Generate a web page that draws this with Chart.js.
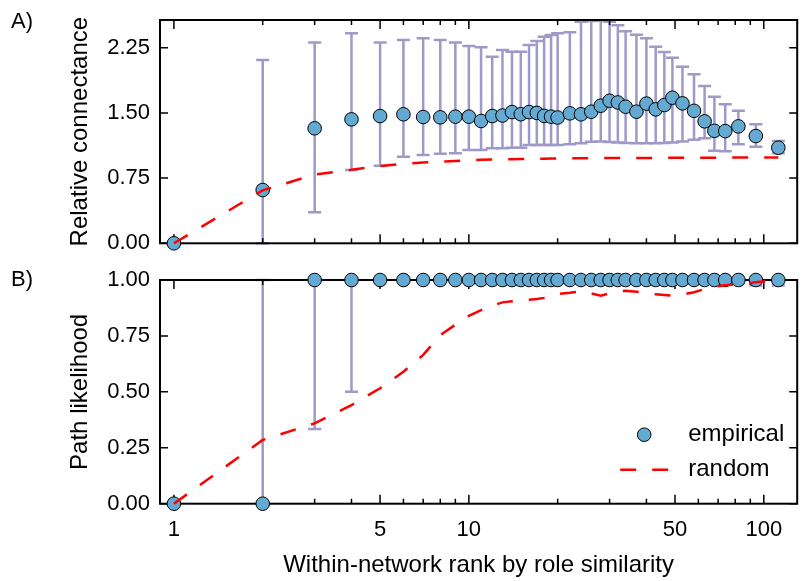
<!DOCTYPE html>
<html>
<head>
<meta charset="utf-8">
<script src="https://cdn.jsdelivr.net/npm/chart.js@4.4.1/dist/chart.umd.min.js"></script>
<style>
	body { margin: 0; background: #fff; }
	#wrap { position: relative; width: 805px; height: 581px; }
	canvas { position: absolute; left: 0; }
</style>
</head>
<body>
<div id="wrap">
	<canvas id="panelA" width="805" height="262" style="top:0"></canvas>
	<canvas id="panelB" width="805" height="319" style="top:262px"></canvas>
</div>
<script>
// Within-network rank (x positions shared by both panels)
const rank = [1, 2, 3, 4, 5, 6, 7, 8, 9, 10, 11, 12, 13, 14, 15, 16, 17, 18, 19, 20,
	22, 24, 26, 28, 30, 32, 34, 37, 40, 43, 46, 49, 53, 58, 63, 68, 74, 82, 94, 112];

// A) relative connectance
const connEmp = [0, 0.613, 1.323, 1.426, 1.464, 1.484, 1.453, 1.449, 1.457, 1.457,
	1.407, 1.464, 1.470, 1.510, 1.485, 1.510, 1.500, 1.466, 1.457, 1.447,
	1.495, 1.484, 1.514, 1.583, 1.640, 1.620, 1.571, 1.514, 1.607, 1.541,
	1.591, 1.675, 1.610, 1.524, 1.403, 1.294, 1.291, 1.345, 1.234, 1.100];
const connHigh = [0, 2.11, 2.31, 2.416, 2.31, 2.339, 2.36, 2.339, 2.31, 2.27,
	2.255, 2.147, 2.224, 2.205, 2.205, 2.28, 2.327, 2.377, 2.396, 2.416,
	2.427, 2.55, 2.557, 2.56, 2.55, 2.51, 2.44, 2.40, 2.36, 2.26,
	2.20, 2.135, 2.03, 1.944, 1.81, 1.687, 1.60, 1.526, 1.369, 1.177];
const connLow = [0, 0, 0.357, 0.843, 0.893, 0.997, 1.016, 1.03, 1.035, 1.073,
	1.073, 1.093, 1.093, 1.10, 1.10, 1.13, 1.13, 1.13, 1.13, 1.13,
	1.139, 1.15, 1.169, 1.17, 1.165, 1.16, 1.155, 1.15, 1.15, 1.15,
	1.155, 1.16, 1.17, 1.19, 1.21, 1.065, 1.06, 1.14, 1.11, 1.035];
const connRandom = [0, 0.61, 0.79, 0.845, 0.89, 0.915, 0.93, 0.94, 0.948, 0.955,
	0.96, 0.963, 0.966, 0.968, 0.97, 0.972, 0.973, 0.974, 0.975, 0.976,
	0.977, 0.978, 0.979, 0.98, 0.98, 0.981, 0.981, 0.982, 0.982, 0.983,
	0.983, 0.984, 0.984, 0.985, 0.985, 0.985, 0.986, 0.986, 0.986, 0.986];

// B) path likelihood
const pathEmp = [0, 0, 1, 1, 1, 1, 1, 1, 1, 1, 1, 1, 1, 1, 1, 1, 1, 1, 1, 1,
	1, 1, 1, 1, 1, 1, 1, 1, 1, 1, 1, 1, 1, 1, 1, 1, 1, 1, 1, 1];
const pathHigh = [0, 1, 1, 1, 1, 1, 1, 1, 1, 1, 1, 1, 1, 1, 1, 1, 1, 1, 1, 1,
	1, 1, 1, 1, 1, 1, 1, 1, 1, 1, 1, 1, 1, 1, 1, 1, 1, 1, 1, 1];
const pathLow = [0, 0, 0.334, 0.5, 1, 1, 1, 1, 1, 1, 1, 1, 1, 1, 1, 1, 1, 1, 1, 1,
	0.985, 0.985, 0.985, 0.985, 0.985, 0.985, 0.985, 0.985, 0.985, 0.985,
	0.985, 0.985, 0.985, 0.985, 0.985, 0.985, 0.985, 0.985, 0.975, 0.975];
const pathRandom = [0, 0.285, 0.359, 0.441, 0.516, 0.59, 0.665, 0.754, 0.80, 0.84,
	0.865, 0.885, 0.90, 0.905, 0.91, 0.912, 0.915, 0.92, 0.93, 0.937,
	0.943, 0.95, 0.94, 0.93, 0.94, 0.95, 0.952, 0.948, 0.94, 0.936,
	0.933, 0.93, 0.935, 0.945, 0.96, 0.97, 0.977, 0.982, 0.99, 1.0];

// tick labels / tick marks
const xLabelTicks = [1, 5, 10, 50, 100];
const xMinorTicks = [2, 3, 4, 6, 7, 8, 9, 20, 30, 40, 60, 70, 80, 90];
const yTicksA = [0, 0.75, 1.5, 2.25];
const yTicksB = [0, 0.25, 0.5, 0.75, 1];

const FONT = "'Liberation Sans', Arial, Helvetica, sans-serif";
const DOT = '#63a9d1', ERR = '#9e9ac8', RED = '#ff0000';

Chart.defaults.font.family = FONT;
Chart.defaults.color = '#000';

const pts = (ys) => rank.map((r, i) => ({x: r, y: ys[i]}));

// frame with inward ticks, error bars, panel letter, legend
const decor = {
	id: 'decor',
	beforeDatasetsDraw(chart, args, opts) {
		const {ctx, chartArea: a, scales: {x, y}} = chart;
		ctx.save();
		// error bars
		ctx.strokeStyle = ERR;
		ctx.lineWidth = 2.5;
		rank.forEach((r, i) => {
			if (opts.hi[i] === opts.lo[i]) return;
			const px = x.getPixelForValue(r),
				top = y.getPixelForValue(opts.hi[i]),
				bot = y.getPixelForValue(opts.lo[i]);
			ctx.beginPath();
			ctx.moveTo(px, top); ctx.lineTo(px, bot);
			ctx.moveTo(px - 6.5, top); ctx.lineTo(px + 6.5, top);
			ctx.moveTo(px - 6.5, bot); ctx.lineTo(px + 6.5, bot);
			ctx.stroke();
		});
		// frame
		ctx.strokeStyle = '#000';
		ctx.lineWidth = 2;
		ctx.strokeRect(a.left, a.top, a.width, a.height);
		ctx.lineWidth = 1.5;
		ctx.beginPath();
		const xt = (v, len) => {
			const px = x.getPixelForValue(v);
			ctx.moveTo(px, a.top); ctx.lineTo(px, a.top + len);
			ctx.moveTo(px, a.bottom); ctx.lineTo(px, a.bottom - len);
		};
		xLabelTicks.forEach((v) => xt(v, 9));
		xMinorTicks.forEach((v) => xt(v, 5));
		opts.yticks.forEach((v) => {
			const py = y.getPixelForValue(v);
			ctx.moveTo(a.left, py); ctx.lineTo(a.left + 8, py);
			ctx.moveTo(a.right, py); ctx.lineTo(a.right - 8, py);
		});
		ctx.stroke();
		ctx.restore();
	},
	afterDraw(chart, args, opts) {
		const {ctx, chartArea: a} = chart;
		ctx.save();
		ctx.fillStyle = '#000';
		ctx.font = '22px ' + FONT;
		ctx.textBaseline = 'middle';
		ctx.textAlign = 'left';
		ctx.fillText(opts.letter, 11, a.top + opts.letterDy);
		if (opts.legend) {
			const y1 = a.bottom - 69, y2 = a.bottom - 34;
			ctx.beginPath();
			ctx.arc(a.right - 153, y1, 6.8, 0, 2 * Math.PI);
			ctx.fillStyle = DOT;
			ctx.fill();
			ctx.lineWidth = 1;
			ctx.strokeStyle = '#000';
			ctx.stroke();
			ctx.beginPath();
			ctx.strokeStyle = RED;
			ctx.lineWidth = 2.5;
			ctx.moveTo(a.right - 177, y2); ctx.lineTo(a.right - 161, y2);
			ctx.moveTo(a.right - 145, y2); ctx.lineTo(a.right - 129, y2);
			ctx.stroke();
			ctx.fillStyle = '#000';
			ctx.font = '24px ' + FONT;
			ctx.fillText('empirical', a.right - 109, y1);
			ctx.fillText('random', a.right - 109, y2);
		}
		ctx.restore();
	}
};

function datasets(emp, rnd) {
	return [{
		label: 'random',
		data: pts(rnd),
		borderColor: RED,
		borderWidth: 2.5,
		borderDash: [16, 16],
		borderCapStyle: 'butt',
		pointRadius: 0,
		tension: 0,
		clip: false
	}, {
		label: 'empirical',
		data: pts(emp),
		showLine: false,
		pointRadius: 6.8,
		pointBackgroundColor: DOT,
		pointBorderColor: '#000',
		pointBorderWidth: 1,
		clip: false
	}];
}

function yAxis(min, max, ticks, title) {
	return {
		type: 'linear',
		min: min,
		max: max,
		afterBuildTicks: (s) => { s.ticks = ticks.map((v) => ({value: v})); },
		afterFit: (s) => {
			s.width = 160;
			s.paddingTop = 0;
			s.paddingBottom = 0;
		},
		grid: {display: false, drawTicks: false},
		border: {display: false},
		ticks: {
			font: {size: 22},
			padding: 10,
			callback: (v) => Number(v).toFixed(2)
		},
		title: {
			display: true,
			text: title,
			font: {size: 24},
			padding: {top: 66, bottom: 0}
		}
	};
}

const xMin = 0.897, xMax = 129.8;

new Chart(document.getElementById('panelA'), {
	type: 'line',
	data: {datasets: datasets(connEmp, connRandom)},
	options: {
		responsive: false,
		animation: false,
		devicePixelRatio: 1,
		layout: {padding: {top: 20, right: 3, bottom: 18.7, left: 0}},
		scales: {
			x: {type: 'logarithmic', min: xMin, max: xMax, display: false},
			y: yAxis(0, 2.569, yTicksA, 'Relative connectance')
		},
		plugins: {
			legend: {display: false},
			tooltip: {enabled: false},
			decor: {lo: connLow, hi: connHigh, yticks: yTicksA, letter: 'A)', letterDy: 2}
		}
	},
	plugins: [decor]
});

new Chart(document.getElementById('panelB'), {
	type: 'line',
	data: {datasets: datasets(pathEmp, pathRandom)},
	options: {
		responsive: false,
		animation: false,
		devicePixelRatio: 1,
		layout: {padding: {top: 18, right: 3, bottom: 0, left: 0}},
		scales: {
			x: {
				type: 'logarithmic',
				min: xMin,
				max: xMax,
				afterBuildTicks: (s) => { s.ticks = xLabelTicks.map((v) => ({value: v})); },
				afterFit: (s) => {
					s.height = 77.3;
					s.paddingLeft = 0;
					s.paddingRight = 0;
				},
				grid: {display: false, drawTicks: false},
				border: {display: false},
				ticks: {
					font: {size: 22},
					padding: 13,
					autoSkip: false,
					maxRotation: 0,
					callback: (v) => String(v)
				},
				title: {
					display: true,
					text: 'Within-network rank by role similarity',
					font: {size: 24},
					padding: {top: 0, bottom: 1}
				}
			},
			y: yAxis(0, 1, yTicksB, 'Path likelihood')
		},
		plugins: {
			legend: {display: false},
			tooltip: {enabled: false},
			decor: {lo: pathLow, hi: pathHigh, yticks: yTicksB, letter: 'B)', letterDy: 0, legend: true}
		}
	},
	plugins: [decor]
});
</script>
</body>
</html>
